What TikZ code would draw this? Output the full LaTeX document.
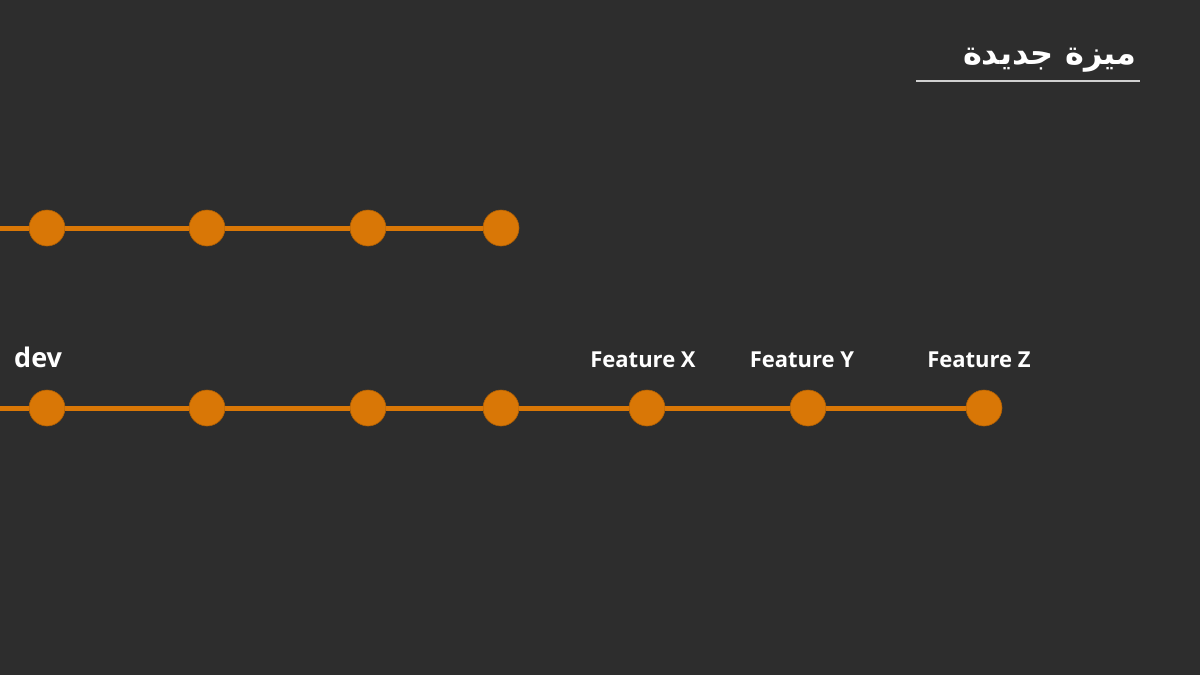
\documentclass[tikz,border=0pt]{standalone}
\usepackage{fontspec}
\setmainfont{Open Sans}
\newfontfamily\arabicfont[Script=Arabic]{DejaVu Sans}
\TeXXeTstate=1
\definecolor{bg}{HTML}{2D2D2D}
\definecolor{org}{HTML}{D97706}
\definecolor{lineg}{HTML}{D0D0D0}
\tikzset{
  commit/.style={circle, fill=org, draw=org!80!black, line width=0.6pt, minimum size=36pt, inner sep=0pt},
  branch/.style={org, line width=5pt},
  lbl/.style={text=white, font=\fontsize{22}{26}\selectfont\bfseries, inner sep=0pt},
}
\begin{document}
\begin{tikzpicture}[x=1pt,y=-1pt]
\fill[bg] (0,0) rectangle (1200,675);
\useasboundingbox (0,0) rectangle (1200,675);
% title
\node[text=white, font=\arabicfont\fontsize{32}{36}\selectfont\bfseries, anchor=east, inner sep=0pt] (title) at (1137,60) {\beginR ميزة جديدة\endR};
\coordinate (ul1) at (916,81);
\coordinate (ul2) at (1140,81);
\draw[lineg, line width=1.2pt] (ul1) -- (ul2);
% top branch
\coordinate (t0) at (0,228);
\node[commit] (t1) at (47,228) {};
\node[commit] (t2) at (207,228) {};
\node[commit] (t3) at (368,228) {};
\node[commit] (t4) at (501,228) {};
\draw[branch] (t0) -- (t1) (t1) -- (t2) (t2) -- (t3) (t3) -- (t4);
% bottom branch
\coordinate (b0) at (0,408);
\node[commit] (b1) at (47,408) {};
\node[commit] (b2) at (207,408) {};
\node[commit] (b3) at (368,408) {};
\node[commit] (b4) at (501,408) {};
\node[commit] (b5) at (647,408) {};
\node[commit] (b6) at (808,408) {};
\node[commit] (b7) at (984,408) {};
\draw[branch] (b0) -- (b1) (b1) -- (b2) (b2) -- (b3) (b3) -- (b4) (b4) -- (b5) (b5) -- (b6) (b6) -- (b7);
% labels
\node[lbl, font=\fontsize{27}{31}\selectfont\bfseries, anchor=base west] (dev) at (14,367) {dev};
\node[lbl, anchor=base] (fx) at (643,367) {Feature X};
\node[lbl, anchor=base] (fy) at (802,367) {Feature Y};
\node[lbl, anchor=base] (fz) at (979,367) {Feature Z};
\end{tikzpicture}
\end{document}
